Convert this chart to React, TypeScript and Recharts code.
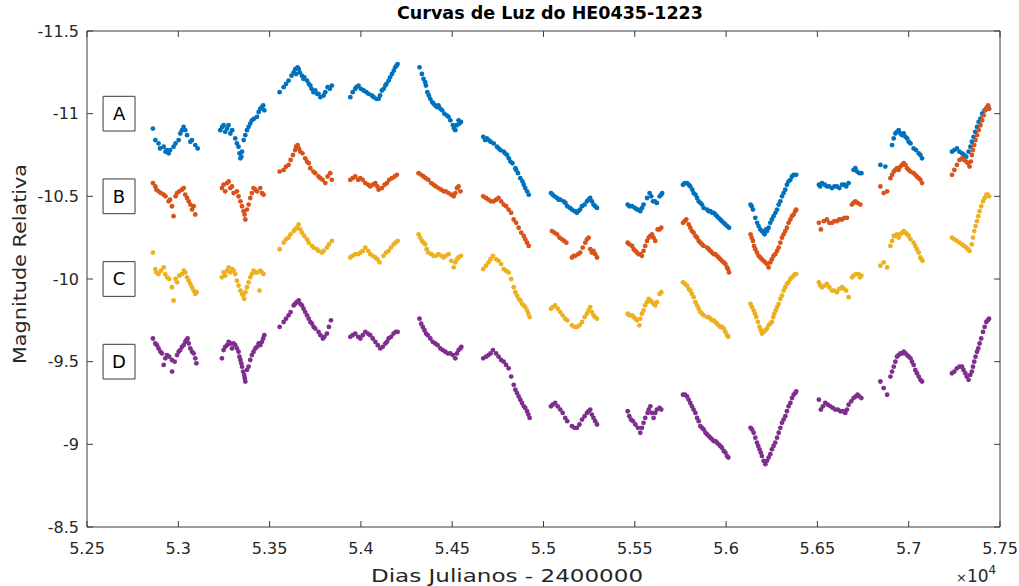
import React from 'react';
import { ScatterChart, Scatter, XAxis, YAxis, ReferenceArea } from 'recharts';

type P = [number, number];

const xTicks = [52500, 53000, 53500, 54000, 54500, 55000, 55500, 56000, 56500, 57000, 57500];
const yTicks = [-11.5, -11, -10.5, -10, -9.5, -9, -8.5];
const imageNames = ['A', 'B', 'C', 'D'];
const imageLabelMag = [-11, -10.5, -10, -9.5];
const labelBoxX: P = [52588, 52763];
const labelBoxHalf = 0.105;

const seriesA: P[] = [
  [52861,-10.91],[52874,-10.84],[52892,-10.82],[52920,-10.80],[52938,-10.78],[52947,-10.76],[52974,-10.80],[53002,-10.84],[53011,-10.88],[53029,-10.92],[53038,-10.90],[53048,-10.87],[53066,-10.83],[53075,-10.84],[53093,-10.81],[53106,-10.79],
  [53230,-10.90],[53248,-10.93],[53267,-10.91],[53285,-10.88],[53312,-10.85],[53330,-10.80],[53340,-10.73],[53349,-10.77],[53358,-10.84],[53376,-10.90],[53385,-10.92],[53403,-10.96],[53431,-10.98],[53449,-11.03],[53458,-11.04],[53471,-11.02],
  [53555,-11.13],[53577,-11.16],[53590,-11.18],[53604,-11.20],[53632,-11.25],[53645,-11.24],[53653,-11.28],[53665,-11.25],[53677,-11.23],[53690,-11.22],[53705,-11.20],[53723,-11.17],[53740,-11.13],[53750,-11.14],[53768,-11.12],[53778,-11.10],[53796,-11.11],[53818,-11.16],[53841,-11.17],
  [53942,-11.10],[53955,-11.13],[53969,-11.15],[53987,-11.17],[54000,-11.15],[54015,-11.14],[54042,-11.12],[54060,-11.11],[54070,-11.10],[54085,-11.09],[54097,-11.09],[54115,-11.14],[54125,-11.15],[54134,-11.17],[54152,-11.20],[54170,-11.24],[54188,-11.28],[54201,-11.30],
  [54321,-11.28],[54334,-11.24],[54343,-11.21],[54352,-11.19],[54364,-11.13],[54380,-11.09],[54390,-11.07],[54398,-11.06],[54416,-11.04],[54425,-11.05],[54435,-11.03],[54457,-11.00],[54470,-10.99],[54480,-10.98],[54504,-10.93],[54517,-10.90],[54525,-10.93],[54535,-10.96],[54548,-10.95],
  [54670,-10.86],[54680,-10.84],[54690,-10.85],[54710,-10.83],[54727,-10.82],[54745,-10.80],[54764,-10.78],[54782,-10.77],[54800,-10.75],[54819,-10.71],[54830,-10.70],[54846,-10.67],[54860,-10.64],[54873,-10.61],[54892,-10.57],[54900,-10.55],[54910,-10.53],[54919,-10.51],
  [55041,-10.52],[55060,-10.50],[55074,-10.49],[55092,-10.48],[55110,-10.47],[55130,-10.44],[55156,-10.42],[55170,-10.41],[55183,-10.40],[55200,-10.42],[55211,-10.44],[55225,-10.45],[55238,-10.47],[55256,-10.49],[55274,-10.45],[55283,-10.44],[55293,-10.43],
  [55461,-10.45],[55485,-10.44],[55512,-10.42],[55530,-10.41],[55548,-10.45],[55567,-10.49],[55581,-10.52],[55600,-10.47],[55621,-10.46],[55636,-10.50],[55650,-10.52],
  [55764,-10.57],[55786,-10.58],[55804,-10.56],[55822,-10.52],[55841,-10.49],[55859,-10.46],[55877,-10.43],[55896,-10.42],[55914,-10.41],[55932,-10.40],[55950,-10.38],[55968,-10.36],[55987,-10.34],[56005,-10.32],[56016,-10.31],
  [56134,-10.45],[56147,-10.42],[56160,-10.37],[56178,-10.32],[56196,-10.29],[56211,-10.27],[56224,-10.29],[56242,-10.34],[56260,-10.38],[56279,-10.42],[56297,-10.47],[56315,-10.52],[56333,-10.57],[56352,-10.60],[56370,-10.63],[56384,-10.63],
  [56508,-10.57],[56525,-10.58],[56552,-10.56],[56580,-10.55],[56607,-10.56],[56635,-10.57],[56658,-10.56],[56671,-10.58],[56698,-10.66],[56717,-10.65],[56741,-10.64],
  [56845,-10.69],[56872,-10.68],[56909,-10.81],[56927,-10.88],[56945,-10.90],[56964,-10.87],[56982,-10.86],[57000,-10.83],[57027,-10.79],[57055,-10.76],[57073,-10.73],
  [57237,-10.77],[57264,-10.79],[57292,-10.76],[57315,-10.74],[57328,-10.77],[57346,-10.83],[57364,-10.89],[57383,-10.95],[57402,-11.00],[57425,-11.03],[57440,-11.03],
];
const seriesAExtra: P[] = [
  [52900,-10.79],[52930,-10.77],[52955,-10.78],[52985,-10.82],[53020,-10.90],
  [53240,-10.92],[53257,-10.89],[53275,-10.93],[53295,-10.90],[53321,-10.82],[53335,-10.76],[53345,-10.74],[53367,-10.87],[53394,-10.94],[53415,-10.97],[53440,-11.01],[53465,-11.05],
  [53620,-11.23],[53640,-11.27],[53660,-11.27],[53685,-11.21],[53715,-11.18],[53730,-11.15],[53760,-11.12],[53805,-11.13],[53830,-11.15],
  [53975,-11.16],[54030,-11.13],[54105,-11.11],[54140,-11.18],[54160,-11.22],[54180,-11.26],[54195,-11.29],
  [54356,-11.17],[54372,-11.11],[54407,-11.05],[54445,-11.02],[54490,-10.96],[54510,-10.91],[54540,-10.94],
  [54700,-10.84],[54755,-10.79],[54790,-10.76],[54810,-10.73],[54850,-10.66],[54885,-10.59],
  [55050,-10.51],[55083,-10.48],[55120,-10.46],[55145,-10.43],[55190,-10.41],[55247,-10.48],[55265,-10.47],
  [55470,-10.44],[55500,-10.43],[55520,-10.42],[55540,-10.43],[55590,-10.50],[55610,-10.47],[55645,-10.51],
  [55775,-10.58],[55795,-10.57],[55815,-10.54],[55832,-10.51],[55850,-10.47],[55868,-10.45],[55905,-10.41],[55923,-10.40],[55941,-10.39],[55958,-10.37],[55977,-10.35],[55996,-10.33],
  [56140,-10.44],[56170,-10.34],[56187,-10.30],[56205,-10.28],[56218,-10.30],[56233,-10.31],[56251,-10.36],[56270,-10.40],[56288,-10.45],[56306,-10.50],[56324,-10.54],[56342,-10.59],[56361,-10.62],
  [56515,-10.56],[56540,-10.57],[56565,-10.56],[56593,-10.56],[56620,-10.55],[56648,-10.57],[56708,-10.67],[56730,-10.64],
  [56918,-10.85],[56936,-10.89],[56955,-10.88],[56973,-10.88],[56991,-10.85],[57010,-10.82],[57040,-10.78],[57064,-10.75],
  [57250,-10.78],[57278,-10.77],[57303,-10.75],[57338,-10.80],[57355,-10.86],[57374,-10.92],[57393,-10.97],[57415,-11.02],[57435,-11.04],
];

const seriesB: P[] = [
  [52861,-10.58],[52874,-10.56],[52892,-10.53],[52920,-10.51],[52947,-10.47],[52965,-10.44],[52974,-10.38],[52993,-10.52],[53020,-10.54],[53038,-10.51],[53057,-10.47],[53075,-10.42],[53093,-10.39],
  [53239,-10.55],[53267,-10.58],[53294,-10.56],[53321,-10.53],[53340,-10.47],[53358,-10.41],[53367,-10.36],[53385,-10.45],[53403,-10.52],[53422,-10.54],[53449,-10.55],[53467,-10.51],
  [53555,-10.65],[53577,-10.66],[53604,-10.69],[53628,-10.75],[53653,-10.81],[53668,-10.77],[53695,-10.73],[53723,-10.67],[53750,-10.64],[53778,-10.61],[53805,-10.58],[53832,-10.64],[53841,-10.60],
  [53942,-10.60],[53969,-10.62],[53997,-10.61],[54024,-10.58],[54051,-10.56],[54079,-10.58],[54097,-10.54],[54115,-10.55],[54143,-10.58],[54170,-10.61],[54197,-10.63],
  [54316,-10.64],[54343,-10.62],[54369,-10.60],[54398,-10.57],[54425,-10.55],[54453,-10.53],[54480,-10.52],[54508,-10.50],[54526,-10.55],[54545,-10.53],
  [54670,-10.50],[54699,-10.48],[54727,-10.47],[54754,-10.49],[54782,-10.45],[54809,-10.42],[54837,-10.36],[54864,-10.31],[54892,-10.26],[54910,-10.22],[54919,-10.20],
  [55046,-10.29],[55074,-10.27],[55101,-10.24],[55125,-10.22],[55156,-10.13],[55174,-10.14],[55201,-10.16],[55229,-10.22],[55247,-10.25],[55256,-10.18],[55274,-10.17],[55293,-10.13],
  [55461,-10.22],[55485,-10.20],[55503,-10.17],[55521,-10.15],[55539,-10.14],[55557,-10.20],[55576,-10.25],[55594,-10.27],[55612,-10.23],[55625,-10.30],[55645,-10.31],
  [55764,-10.34],[55782,-10.36],[55804,-10.31],[55822,-10.28],[55841,-10.25],[55859,-10.22],[55877,-10.20],[55896,-10.19],[55914,-10.17],[55932,-10.15],[55950,-10.14],[55968,-10.12],[55987,-10.10],[56005,-10.07],[56016,-10.04],
  [56134,-10.27],[56147,-10.23],[56160,-10.18],[56178,-10.14],[56196,-10.12],[56215,-10.10],[56233,-10.07],[56251,-10.12],[56269,-10.15],[56288,-10.19],[56306,-10.25],[56324,-10.29],[56342,-10.34],[56361,-10.38],[56379,-10.41],
  [56508,-10.34],[56519,-10.30],[56552,-10.36],[56580,-10.34],[56607,-10.35],[56635,-10.36],[56662,-10.37],[56689,-10.45],[56708,-10.47],[56735,-10.45],
  [56845,-10.56],[56863,-10.52],[56882,-10.53],[56900,-10.61],[56918,-10.65],[56945,-10.66],[56973,-10.70],[57000,-10.66],[57027,-10.64],[57055,-10.61],[57073,-10.58],
  [57237,-10.63],[57264,-10.69],[57292,-10.73],[57315,-10.71],[57333,-10.68],[57346,-10.75],[57359,-10.81],[57374,-10.87],[57393,-10.93],[57411,-10.99],[57429,-11.04],[57440,-11.03],
];
const seriesBExtra: P[] = [
  [52880,-10.54],[52905,-10.52],[52930,-10.50],[52955,-10.48],[52985,-10.50],[53005,-10.53],[53030,-10.55],[53048,-10.49],[53066,-10.45],[53084,-10.44],
  [53248,-10.57],[53257,-10.53],[53276,-10.59],[53285,-10.55],[53303,-10.52],[53330,-10.50],[53349,-10.44],[53363,-10.39],[53376,-10.42],[53394,-10.49],[53412,-10.55],[53431,-10.53],[53458,-10.52],
  [53590,-10.68],[53615,-10.72],[53640,-10.78],[53645,-10.80],[53660,-10.79],[53680,-10.76],[53705,-10.71],[53714,-10.70],[53740,-10.65],[53768,-10.62],[53790,-10.60],[53818,-10.62],
  [53955,-10.61],[53985,-10.60],[54010,-10.60],[54040,-10.57],[54065,-10.57],[54090,-10.56],[54130,-10.57],[54155,-10.60],[54185,-10.62],
  [54330,-10.63],[54355,-10.61],[54385,-10.58],[54410,-10.56],[54440,-10.54],[54465,-10.53],[54495,-10.51],[54517,-10.52],[54535,-10.56],
  [54685,-10.49],[54712,-10.47],[54740,-10.48],[54768,-10.47],[54795,-10.44],[54823,-10.40],[54850,-10.34],[54878,-10.28],[54900,-10.24],
  [55060,-10.28],[55088,-10.25],[55113,-10.23],[55165,-10.14],[55190,-10.15],[55215,-10.19],[55238,-10.24],[55265,-10.16],[55283,-10.15],
  [55470,-10.21],[55494,-10.18],[55512,-10.16],[55530,-10.15],[55548,-10.17],[55567,-10.23],[55585,-10.26],[55603,-10.25],[55636,-10.30],
  [55773,-10.35],[55795,-10.33],[55813,-10.29],[55832,-10.26],[55850,-10.23],[55868,-10.21],[55905,-10.18],[55923,-10.16],[55941,-10.15],[55959,-10.13],[55977,-10.11],[55996,-10.09],[56010,-10.06],
  [56140,-10.25],[56153,-10.20],[56169,-10.16],[56187,-10.13],[56205,-10.11],[56224,-10.09],[56242,-10.10],[56260,-10.14],[56279,-10.17],[56297,-10.22],[56315,-10.27],[56333,-10.31],[56352,-10.36],[56370,-10.39],[56384,-10.42],
  [56535,-10.35],[56565,-10.34],[56593,-10.35],[56620,-10.36],[56648,-10.37],[56698,-10.46],[56720,-10.46],
  [56909,-10.63],[56927,-10.66],[56936,-10.67],[56955,-10.68],[56964,-10.69],[56982,-10.69],[56991,-10.67],[57010,-10.65],[57036,-10.63],[57045,-10.62],[57064,-10.60],
  [57250,-10.66],[57278,-10.72],[57303,-10.72],[57325,-10.70],[57340,-10.71],[57352,-10.78],[57366,-10.84],[57383,-10.90],[57402,-10.96],[57420,-11.02],[57435,-11.05],
];

const seriesC: P[] = [
  [52861,-10.16],[52874,-10.06],[52892,-10.03],[52920,-10.07],[52938,-10.01],[52965,-9.95],[52974,-9.87],[52993,-9.98],[53020,-10.03],[53038,-10.04],[53057,-9.99],[53075,-9.95],[53093,-9.91],
  [53239,-10.01],[53267,-10.05],[53294,-10.06],[53312,-10.03],[53330,-9.96],[53349,-9.91],[53361,-9.88],[53376,-9.95],[53394,-10.01],[53422,-10.04],[53445,-9.93],[53449,-10.05],[53467,-10.03],
  [53555,-10.18],[53577,-10.22],[53604,-10.25],[53632,-10.29],[53659,-10.33],[53677,-10.28],[53705,-10.24],[53732,-10.20],[53759,-10.18],[53787,-10.16],[53814,-10.19],[53841,-10.23],
  [53942,-10.13],[53969,-10.15],[53997,-10.16],[54024,-10.19],[54051,-10.15],[54079,-10.13],[54102,-10.10],[54124,-10.14],[54152,-10.17],[54179,-10.21],[54201,-10.23],
  [54316,-10.27],[54334,-10.23],[54352,-10.21],[54369,-10.16],[54398,-10.14],[54425,-10.15],[54453,-10.13],[54480,-10.15],[54508,-10.07],[54526,-10.12],[54548,-10.14],
  [54670,-10.06],[54699,-10.10],[54723,-10.14],[54754,-10.11],[54782,-10.06],[54809,-10.04],[54837,-9.95],[54855,-9.90],[54873,-9.87],[54892,-9.84],[54910,-9.81],[54924,-9.77],
  [55041,-9.82],[55064,-9.84],[55092,-9.80],[55119,-9.76],[55156,-9.72],[55183,-9.71],[55211,-9.74],[55238,-9.79],[55256,-9.83],[55274,-9.78],[55293,-9.76],
  [55461,-9.79],[55485,-9.78],[55512,-9.75],[55525,-9.72],[55539,-9.79],[55557,-9.84],[55576,-9.88],[55594,-9.86],[55612,-9.84],[55636,-9.91],
  [55764,-9.98],[55786,-9.96],[55804,-9.93],[55822,-9.89],[55841,-9.84],[55859,-9.80],[55877,-9.78],[55896,-9.77],[55914,-9.76],[55932,-9.75],[55950,-9.73],[55968,-9.71],[55987,-9.70],[56005,-9.66],
  [56134,-9.85],[56151,-9.81],[56165,-9.77],[56183,-9.71],[56196,-9.67],[56215,-9.69],[56233,-9.72],[56251,-9.74],[56264,-9.79],[56279,-9.83],[56297,-9.88],[56315,-9.93],[56333,-9.97],[56352,-10.00],[56370,-10.02],[56384,-10.03],
  [56508,-9.98],[56525,-9.95],[56552,-9.97],[56580,-9.93],[56607,-9.92],[56635,-9.95],[56658,-9.93],[56671,-9.89],[56698,-10.02],[56726,-10.03],[56741,-10.02],
  [56845,-10.08],[56863,-10.10],[56882,-10.07],[56900,-10.20],[56918,-10.26],[56945,-10.25],[56973,-10.29],[57000,-10.26],[57027,-10.22],[57045,-10.18],[57064,-10.13],[57076,-10.11],
  [57237,-10.25],[57264,-10.23],[57292,-10.21],[57315,-10.19],[57333,-10.17],[57346,-10.21],[57359,-10.29],[57374,-10.35],[57388,-10.41],[57407,-10.47],[57425,-10.51],[57440,-10.50],
];
const seriesCExtra: P[] = [
  [52880,-10.04],[52905,-10.05],[52928,-10.03],[52950,-10.00],[52985,-10.00],[53005,-10.02],[53030,-10.05],[53048,-10.01],[53066,-9.97],[53084,-9.93],[53100,-9.92],
  [53248,-10.04],[53257,-10.02],[53276,-10.07],[53285,-10.04],[53303,-10.05],[53321,-9.99],[53340,-9.93],[53355,-9.90],[53367,-9.92],[53385,-9.98],[53403,-10.03],[53412,-10.05],[53431,-10.04],[53458,-10.04],
  [53590,-10.24],[53615,-10.27],[53640,-10.30],[53650,-10.31],[53668,-10.30],[53690,-10.26],[53714,-10.22],[53741,-10.19],[53768,-10.17],[53796,-10.17],[53825,-10.21],
  [53955,-10.14],[53985,-10.15],[54010,-10.17],[54040,-10.17],[54065,-10.14],[54090,-10.12],[54138,-10.16],[54165,-10.19],[54190,-10.22],
  [54325,-10.25],[54343,-10.22],[54360,-10.18],[54385,-10.15],[54410,-10.14],[54440,-10.14],[54465,-10.14],[54495,-10.11],[54517,-10.10],[54535,-10.13],
  [54685,-10.08],[54710,-10.12],[54740,-10.12],[54768,-10.09],[54795,-10.05],[54823,-10.00],[54846,-9.92],[54864,-9.88],[54882,-9.85],[54900,-9.83],[54917,-9.79],
  [55050,-9.83],[55078,-9.82],[55105,-9.78],[55130,-9.75],[55170,-9.71],[55197,-9.72],[55225,-9.77],[55247,-9.81],[55265,-9.80],[55283,-9.77],
  [55470,-9.78],[55494,-9.77],[55503,-9.76],[55530,-9.76],[55548,-9.81],[55567,-9.86],[55585,-9.87],[55603,-9.85],[55621,-9.86],[55645,-9.92],
  [55775,-9.97],[55795,-9.94],[55813,-9.91],[55832,-9.86],[55850,-9.82],[55868,-9.79],[55905,-9.77],[55923,-9.75],[55941,-9.74],[55959,-9.72],[55977,-9.71],[55996,-9.68],[56012,-9.65],
  [56142,-9.83],[56158,-9.79],[56174,-9.74],[56190,-9.69],[56205,-9.68],[56224,-9.70],[56242,-9.73],[56258,-9.77],[56272,-9.81],[56288,-9.85],[56306,-9.90],[56324,-9.95],[56342,-9.98],[56361,-10.01],[56378,-10.03],
  [56516,-9.96],[56540,-9.96],[56565,-9.95],[56593,-9.93],[56620,-9.94],[56645,-9.94],[56690,-10.01],[56712,-10.03],[56733,-10.01],
  [56909,-10.23],[56927,-10.26],[56936,-10.27],[56955,-10.27],[56964,-10.28],[56982,-10.28],[56991,-10.27],[57010,-10.24],[57036,-10.20],[57055,-10.16],[57070,-10.12],
  [57250,-10.24],[57278,-10.22],[57303,-10.20],[57325,-10.18],[57352,-10.25],[57366,-10.32],[57381,-10.38],[57397,-10.44],[57416,-10.49],[57433,-10.51],
];

const seriesD: P[] = [
  [52861,-9.64],[52874,-9.61],[52892,-9.58],[52911,-9.55],[52920,-9.48],[52938,-9.54],[52965,-9.51],[52966,-9.44],[52993,-9.54],[53011,-9.57],[53038,-9.62],[53051,-9.64],[53066,-9.58],[53084,-9.55],[53099,-9.49],
  [53239,-9.52],[53257,-9.59],[53285,-9.61],[53312,-9.60],[53330,-9.56],[53340,-9.51],[53349,-9.47],[53361,-9.42],[53367,-9.38],[53385,-9.47],[53403,-9.54],[53422,-9.58],[53440,-9.61],[53458,-9.62],[53471,-9.66],
  [53555,-9.71],[53577,-9.74],[53604,-9.78],[53632,-9.84],[53659,-9.87],[53686,-9.82],[53714,-9.76],[53741,-9.71],[53768,-9.68],[53792,-9.64],[53814,-9.67],[53836,-9.75],
  [53942,-9.65],[53969,-9.67],[53997,-9.64],[54024,-9.68],[54051,-9.66],[54079,-9.62],[54106,-9.58],[54134,-9.61],[54152,-9.64],[54179,-9.67],[54201,-9.68],
  [54321,-9.76],[54339,-9.71],[54357,-9.67],[54380,-9.64],[54407,-9.61],[54435,-9.58],[54462,-9.56],[54490,-9.55],[54517,-9.52],[54535,-9.57],[54550,-9.59],
  [54670,-9.52],[54699,-9.54],[54723,-9.57],[54754,-9.53],[54782,-9.50],[54809,-9.46],[54837,-9.36],[54855,-9.31],[54873,-9.27],[54892,-9.23],[54910,-9.20],[54924,-9.16],
  [55041,-9.23],[55064,-9.25],[55092,-9.21],[55119,-9.16],[55156,-9.11],[55183,-9.10],[55211,-9.15],[55238,-9.19],[55256,-9.21],[55274,-9.16],[55293,-9.12],
  [55461,-9.20],[55479,-9.15],[55503,-9.12],[55530,-9.07],[55548,-9.13],[55570,-9.19],[55585,-9.23],[55603,-9.16],[55621,-9.21],[55645,-9.21],
  [55764,-9.30],[55786,-9.29],[55804,-9.25],[55822,-9.21],[55841,-9.16],[55859,-9.11],[55877,-9.09],[55896,-9.06],[55914,-9.04],[55932,-9.02],[55950,-9.01],[55968,-8.99],[55987,-8.96],[56005,-8.93],
  [56134,-9.10],[56151,-9.07],[56169,-9.01],[56183,-8.97],[56196,-8.93],[56215,-8.88],[56233,-8.92],[56251,-8.97],[56269,-9.01],[56288,-9.07],[56306,-9.13],[56324,-9.17],[56342,-9.23],[56361,-9.28],[56379,-9.31],
  [56508,-9.27],[56519,-9.21],[56543,-9.25],[56571,-9.23],[56598,-9.21],[56626,-9.20],[56653,-9.19],[56671,-9.24],[56698,-9.28],[56720,-9.30],[56741,-9.28],
  [56845,-9.38],[56863,-9.34],[56882,-9.30],[56900,-9.41],[56918,-9.47],[56936,-9.53],[56964,-9.55],[56991,-9.54],[57018,-9.50],[57036,-9.45],[57055,-9.41],[57073,-9.38],
  [57237,-9.43],[57264,-9.46],[57292,-9.47],[57310,-9.43],[57328,-9.39],[57346,-9.44],[57359,-9.50],[57374,-9.56],[57388,-9.61],[57407,-9.68],[57425,-9.74],[57440,-9.76],
];
const seriesDExtra: P[] = [
  [52883,-9.60],[52902,-9.56],[52929,-9.52],[52950,-9.53],[52980,-9.50],[53002,-9.56],[53020,-9.59],[53029,-9.60],[53044,-9.63],[53057,-9.61],[53075,-9.56],[53093,-9.52],
  [53248,-9.57],[53267,-9.60],[53276,-9.62],[53294,-9.58],[53303,-9.61],[53321,-9.58],[53335,-9.53],[53345,-9.49],[53355,-9.44],[53364,-9.40],[53376,-9.45],[53394,-9.51],[53412,-9.56],[53431,-9.59],[53449,-9.60],[53465,-9.64],
  [53590,-9.76],[53615,-9.80],[53640,-9.85],[53648,-9.86],[53668,-9.85],[53677,-9.84],[53695,-9.80],[53705,-9.78],[53723,-9.74],[53732,-9.73],[53750,-9.70],[53778,-9.66],[53800,-9.65],[53825,-9.71],
  [53955,-9.66],[53985,-9.65],[54010,-9.66],[54038,-9.67],[54065,-9.64],[54092,-9.60],[54120,-9.59],[54143,-9.62],[54165,-9.65],[54190,-9.68],
  [54330,-9.73],[54348,-9.69],[54366,-9.66],[54393,-9.62],[54420,-9.60],[54448,-9.57],[54476,-9.55],[54504,-9.54],[54526,-9.55],[54545,-9.58],
  [54685,-9.53],[54710,-9.55],[54740,-9.55],[54768,-9.51],[54795,-9.48],[54823,-9.41],[54846,-9.33],[54864,-9.29],[54882,-9.25],[54900,-9.22],[54917,-9.18],
  [55050,-9.24],[55078,-9.23],[55105,-9.19],[55130,-9.14],[55170,-9.10],[55197,-9.12],[55225,-9.17],[55247,-9.20],[55265,-9.18],[55283,-9.14],
  [55470,-9.17],[55490,-9.14],[55517,-9.10],[55539,-9.10],[55557,-9.16],[55576,-9.21],[55594,-9.19],[55612,-9.19],[55636,-9.22],
  [55775,-9.30],[55795,-9.27],[55813,-9.23],[55832,-9.19],[55850,-9.14],[55868,-9.10],[55887,-9.07],[55905,-9.05],[55923,-9.03],[55941,-9.02],[55959,-9.00],[55977,-8.98],[55996,-8.95],[56012,-8.92],
  [56142,-9.09],[56160,-9.04],[56176,-8.99],[56190,-8.95],[56205,-8.90],[56224,-8.90],[56242,-8.94],[56260,-8.99],[56279,-9.04],[56297,-9.10],[56315,-9.15],[56333,-9.20],[56352,-9.25],[56370,-9.30],[56384,-9.32],
  [56530,-9.23],[56557,-9.24],[56585,-9.22],[56612,-9.21],[56640,-9.20],[56662,-9.21],[56685,-9.26],[56710,-9.29],[56730,-9.29],
  [56909,-9.44],[56927,-9.50],[56945,-9.54],[56955,-9.55],[56973,-9.56],[56982,-9.55],[57000,-9.53],[57010,-9.52],[57027,-9.48],[57045,-9.43],[57064,-9.39],
  [57250,-9.44],[57278,-9.47],[57300,-9.45],[57318,-9.41],[57337,-9.42],[57352,-9.47],[57366,-9.53],[57381,-9.58],[57397,-9.64],[57416,-9.71],[57433,-9.75],
];

const seriesList: P[][] = [
  [...seriesA, ...seriesAExtra],
  [...seriesB, ...seriesBExtra],
  [...seriesC, ...seriesCExtra],
  [...seriesD, ...seriesDExtra],
];
const colors = ['#0072BD', '#D95319', '#EDB120', '#7E2F8E'];

const FONT = '"DejaVu Sans", "Liberation Sans", Arial, sans-serif';
const AXIS = '#3a3a3a';
const TXT = '#262626';

const toPoints = (arr: P[]) => arr.map(([jd, mag]) => ({ jd, mag }));

const dot = (color: string) => (props: any) => (
  <circle cx={props.cx} cy={props.cy} r={2.4} fill={color} stroke="none" />
);

export default function App() {
  const tickStyle = { fill: TXT, fontSize: 16, fontFamily: FONT };
  return (
    <div style={{ position: 'fixed', left: 0, top: 0, width: 1019, height: 586, fontFamily: FONT, background: '#fff', overflow: 'hidden' }}>
      <ScatterChart width={1019} height={586} margin={{ top: 30, right: 18, bottom: 19, left: 27 }}>
        <XAxis xAxisId="b" dataKey="jd" type="number" orientation="bottom" domain={[52500, 57500]}
          ticks={xTicks} tickFormatter={(v: number) => String(v / 10000)} height={40}
          tickSize={-6} tickMargin={22} stroke={AXIS} tick={tickStyle} allowDataOverflow />
        <XAxis xAxisId="t" dataKey="jd" type="number" orientation="top" domain={[52500, 57500]}
          ticks={xTicks} tickFormatter={() => ''} height={1} tickSize={-6} tickMargin={0}
          stroke={AXIS} allowDataOverflow />
        <YAxis yAxisId="l" dataKey="mag" type="number" orientation="left" domain={[-11.5, -8.5]} reversed
          ticks={yTicks} width={60} tickSize={-6} tickMargin={14} stroke={AXIS} tick={tickStyle} allowDataOverflow />
        <YAxis yAxisId="r" dataKey="mag" type="number" orientation="right" domain={[-11.5, -8.5]} reversed
          ticks={yTicks} width={1} tickSize={-6} tickMargin={0} tickFormatter={() => ''} stroke={AXIS} allowDataOverflow />
        {imageNames.map((name, i) => (
          <ReferenceArea key={name} xAxisId="b" yAxisId="l"
            x1={labelBoxX[0]} x2={labelBoxX[1]}
            y1={imageLabelMag[i] - labelBoxHalf} y2={imageLabelMag[i] + labelBoxHalf}
            fill="#ffffff" fillOpacity={1} stroke={AXIS} strokeWidth={1}
            label={{ value: name, position: 'center', fill: '#000', fontSize: 18, fontFamily: FONT }} />
        ))}
        {seriesList.map((s, i) => (
          <Scatter key={imageNames[i]} name={imageNames[i]} xAxisId="b" yAxisId="l" data={toPoints(s)}
            fill={colors[i]} shape={dot(colors[i])} isAnimationActive={false} />
        ))}
      </ScatterChart>
      <div style={{ position: 'absolute', left: 550, top: 14, transform: 'translate(-50%, -50%)', whiteSpace: 'nowrap',
        fontWeight: 'bold', fontSize: 17.5, color: '#000', lineHeight: 1 }}>Curvas de Luz do HE0435-1223</div>
      <div style={{ position: 'absolute', left: 20, top: 264, transform: 'translate(-50%, -50%) rotate(-90deg) scaleX(1.22)',
        whiteSpace: 'nowrap', fontSize: 17, color: TXT, lineHeight: 1 }}>Magnitude Relativa</div>
      <div style={{ position: 'absolute', left: 507, top: 576, transform: 'translate(-50%, -50%) scaleX(1.28)',
        whiteSpace: 'nowrap', fontSize: 18, color: TXT, lineHeight: 1 }}>Dias Julianos - 2400000</div>
      <div style={{ position: 'absolute', left: 956, top: 568, whiteSpace: 'nowrap', color: TXT, lineHeight: 1, fontSize: 17 }}>
        <span style={{ fontSize: 13 }}>×</span>10<span style={{ fontSize: 12, position: 'relative', top: -8 }}>4</span>
      </div>
    </div>
  );
}
